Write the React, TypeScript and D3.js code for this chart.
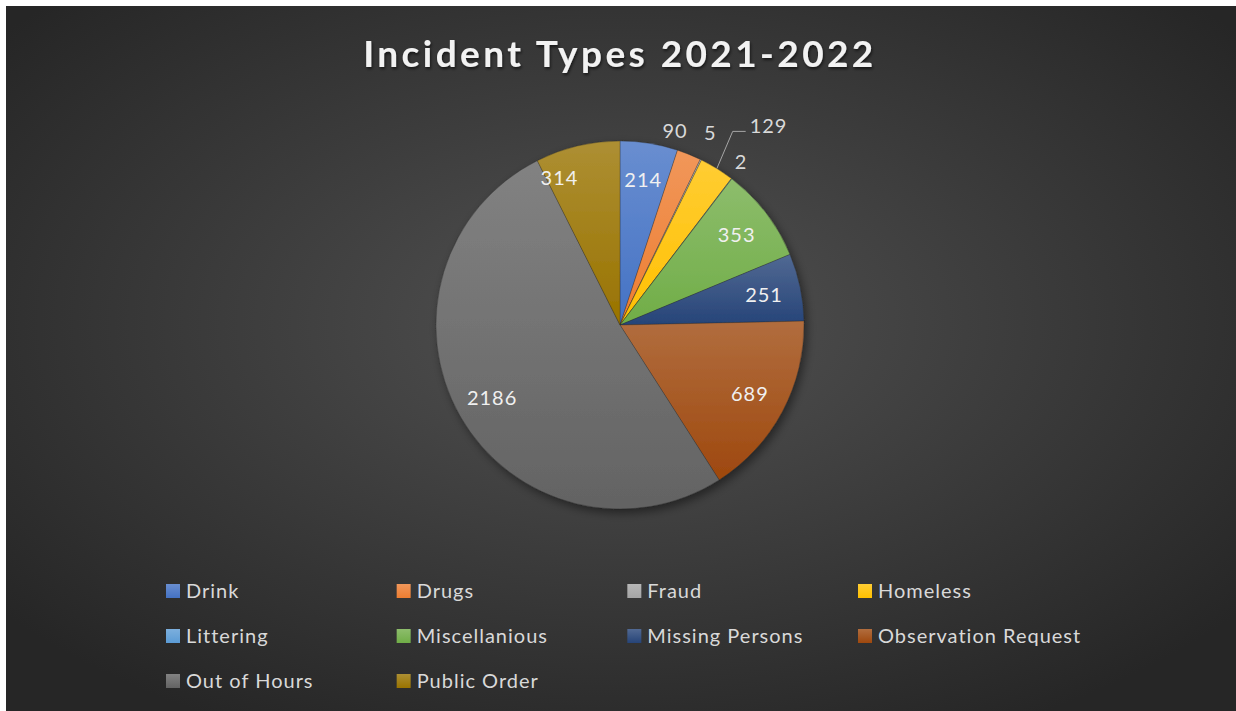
import React, { useEffect, useRef } from 'react';
import * as d3 from 'd3';

const W = 1236;
const H = 711;

const categories = [
  'Drink',
  'Drugs',
  'Fraud',
  'Homeless',
  'Littering',
  'Miscellanious',
  'Missing Persons',
  'Observation Request',
  'Out of Hours',
  'Public Order',
];
const counts = [214, 90, 5, 129, 2, 353, 251, 689, 2186, 314];
const colors = [
  '#4472C4',
  '#ED7D31',
  '#A5A5A5',
  '#FFC000',
  '#5B9BD5',
  '#70AD47',
  '#264478',
  '#9E480E',
  '#636363',
  '#997300',
];

// small slices get their labels outside the pie (angle in degrees, distance in px)
const outsideLabels: Record<string, { ang: number; dist: number; leader?: boolean }> = {
  Drugs: { ang: 15.8, dist: 202 },
  Fraud: { ang: 25.2, dist: 212 },
  Homeless: { ang: 30.2, dist: 224, leader: true },
  Littering: { ang: 36.6, dist: 203 },
};
// Excel nudged this inside label off the mid line
const insideShift: Record<string, number> = { 'Public Order': -9 };

interface ISlice {
  name: string;
  value: number;
  color: string;
}

const App: React.FC = () => {
  const ref = useRef<SVGSVGElement>(null);

  useEffect(() => {
    if (ref.current) drawChart(ref.current);
  }, []);

  return (
    <svg
      ref={ref}
      width={W}
      height={H}
      style={{ position: 'absolute', left: 0, top: 0, display: 'block' }}
    />
  );
};

const drawChart = (el: SVGSVGElement) => {
  const svg = d3.select(el);
  svg.selectAll('*').remove();

  const data: ISlice[] = categories.map((name, i) => ({
    name,
    value: counts[i],
    color: colors[i],
  }));

  const defs = svg.append('defs');

  const bg = defs
    .append('radialGradient')
    .attr('id', 'bg')
    .attr('cx', '50%')
    .attr('cy', '45%')
    .attr('r', '65%');
  bg.append('stop').attr('offset', '0%').attr('stop-color', '#525252');
  bg.append('stop').attr('offset', '100%').attr('stop-color', '#262626');

  data.forEach((d, i) => {
    const g = defs
      .append('linearGradient')
      .attr('id', `sl${i}`)
      .attr('x1', 0)
      .attr('y1', 0)
      .attr('x2', 0)
      .attr('y2', 1);
    g.append('stop')
      .attr('offset', '0%')
      .attr('stop-color', d3.interpolateRgb(d.color, '#ffffff')(0.2));
    g.append('stop').attr('offset', '100%').attr('stop-color', d.color);
  });

  const shadow = defs
    .append('filter')
    .attr('id', 'shadow')
    .attr('x', '-20%')
    .attr('y', '-20%')
    .attr('width', '140%')
    .attr('height', '140%');
  shadow
    .append('feDropShadow')
    .attr('dx', 3)
    .attr('dy', 4)
    .attr('stdDeviation', 5)
    .attr('flood-color', '#000')
    .attr('flood-opacity', 0.45);

  const titleShadow = defs.append('filter').attr('id', 'tshadow');
  titleShadow
    .append('feDropShadow')
    .attr('dx', 1)
    .attr('dy', 2)
    .attr('stdDeviation', 1.5)
    .attr('flood-color', '#000')
    .attr('flood-opacity', 0.6);

  svg.append('rect').attr('width', W).attr('height', H).attr('fill', '#ffffff');
  svg
    .append('rect')
    .attr('x', 6)
    .attr('y', 6)
    .attr('width', W - 6)
    .attr('height', H - 6)
    .attr('fill', 'url(#bg)');

  svg
    .append('text')
    .attr('x', 620)
    .attr('y', 67)
    .attr('text-anchor', 'middle')
    .attr('fill', '#f2f2f2')
    .attr('filter', 'url(#tshadow)')
    .style('font-family', 'Lato, "Open Sans", sans-serif')
    .style('font-weight', 700)
    .style('font-size', '37px')
    .style('letter-spacing', '3.4px')
    .text('Incident Types 2021-2022');

  const cx = 620;
  const cy = 325;
  const r = 184;

  const pie = d3
    .pie<ISlice>()
    .value((d) => d.value)
    .sort(null);
  const arcs = pie(data);
  const arc = d3.arc<d3.PieArcDatum<ISlice>>().innerRadius(0).outerRadius(r);

  const g = svg.append('g').attr('transform', `translate(${cx},${cy})`);
  g.append('g')
    .attr('filter', 'url(#shadow)')
    .selectAll('path')
    .data(arcs)
    .enter()
    .append('path')
    .attr('d', arc)
    .attr('fill', (d) => `url(#sl${d.index})`)
    .attr('stroke', 'rgba(40,40,40,0.5)')
    .attr('stroke-width', 0.6);

  const polar = (deg: number, dist: number) => {
    const a = (deg * Math.PI) / 180;
    return [Math.sin(a) * dist, -Math.cos(a) * dist];
  };
  const toDeg = (rad: number) => (rad * 180) / Math.PI;

  const labelFont = 'Lato, "Open Sans", sans-serif';
  const addLabel = (x: number, y: number, txt: string | number, anchor: string, fill: string) =>
    g
      .append('text')
      .attr('x', x)
      .attr('y', y)
      .attr('dy', '0.35em')
      .attr('text-anchor', anchor)
      .attr('fill', fill)
      .style('font-family', labelFont)
      .style('font-size', '20px')
      .style('letter-spacing', '1px')
      .text(txt);

  arcs.forEach((d) => {
    const mid = toDeg((d.startAngle + d.endAngle) / 2);
    const out = outsideLabels[d.data.name];
    if (out) {
      const [lx, ly] = polar(out.ang, out.dist);
      if (out.leader) {
        const [ex, ey] = polar(mid, r);
        g.append('polyline')
          .attr('points', `${ex},${ey} ${lx},${ly} ${lx + 13},${ly}`)
          .attr('fill', 'none')
          .attr('stroke', '#a6a6a6')
          .attr('stroke-width', 1);
        addLabel(lx + 17, ly - 5, d.data.value, 'start', '#d9d9d9');
      } else {
        addLabel(lx, ly, d.data.value, 'middle', '#d9d9d9');
      }
    } else {
      const shift = insideShift[d.data.name] || 0;
      const [lx, ly] = polar(mid + shift, r * 0.8 + (shift ? 12 : 0));
      addLabel(lx, ly, d.data.value, 'middle', '#f0f0f0');
    }
  });

  // legend: 4 columns
  const colX = d3.scalePoint<number>().domain([0, 1, 2, 3]).range([166, 858]);
  const rowY = d3.scalePoint<number>().domain([0, 1, 2]).range([591, 681]);
  const legend = svg.append('g');
  data.forEach((d, i) => {
    const x = colX(i % 4)!;
    const y = rowY(Math.floor(i / 4))!;
    legend
      .append('rect')
      .attr('x', x)
      .attr('y', y - 7)
      .attr('width', 14)
      .attr('height', 14)
      .attr('fill', `url(#sl${i})`);
    legend
      .append('text')
      .attr('x', x + 20)
      .attr('y', y)
      .attr('dy', '0.35em')
      .attr('fill', '#d9d9d9')
      .style('font-family', labelFont)
      .style('font-size', '20px')
      .style('letter-spacing', '1px')
      .text(d.name);
  });
};

export default App;
